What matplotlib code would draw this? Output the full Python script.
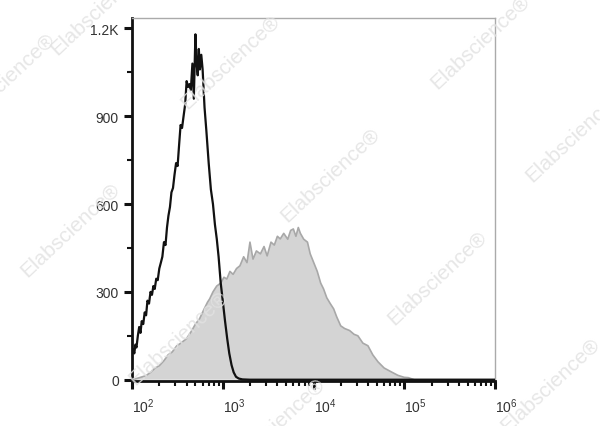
import numpy as np
import matplotlib.pyplot as plt
from matplotlib.ticker import FixedLocator, LogLocator, NullFormatter

plt.rcParams["font.family"] = ["Liberation Sans", "DejaVu Sans"]

# ── black histogram (unstained / control) ──
black_x = [100, 103, 106, 109, 112, 116, 120, 124, 128, 133, 138, 143, 148, 154, 160,
           166, 172, 178, 185, 192, 200, 208, 216, 225, 234, 243, 252, 262, 272, 283,
           294, 306, 318, 330, 343, 356, 370, 385, 400, 415, 430, 445, 463, 480, 500,
           515, 530, 545, 560, 580, 600, 630, 660, 700, 740, 780, 820, 860, 900, 950,
           1000, 1060, 1120, 1180, 1250, 1320, 1400, 1500, 1650, 2000, 1e6]
black_y = [95, 105, 90, 120, 110, 150, 180, 160, 200, 190, 230, 220, 270, 260, 300,
           290, 320, 310, 345, 340, 380, 400, 420, 470, 460, 520, 560, 590, 640, 655,
           700, 740, 730, 800, 870, 860, 900, 940, 1020, 1000, 1010, 990, 1080, 960, 1180,
           1080, 1040, 1130, 1060, 1110, 1060, 930, 850, 740, 650, 600, 530, 480, 420, 330,
           270, 200, 140, 90, 50, 25, 10, 4, 1, 0, 0]

# ── gray filled histogram (stained) ──
gray_x = [100, 115, 130, 143, 160, 180, 200, 225, 250, 278, 310, 345, 398, 450, 500,
          555, 620, 680, 717, 780, 858, 950, 1030, 1108, 1200, 1300, 1420, 1545, 1700, 1850,
          1995, 2154, 2350, 2600, 2850, 3084, 3400, 3700, 4000, 4300, 4700, 5200, 5600, 5995, 6400,
          6800, 7170, 7800, 8580, 9200, 10000, 11000, 12000, 12915, 14000, 15300, 16680, 18000, 19950, 22000,
          25000, 28000, 30840, 35000, 39800, 45000, 51400, 60000, 71700, 85000, 100000, 110800, 129000, 1e6]
gray_y = [0, 5, 10, 14, 25, 40, 48, 65, 85, 95, 115, 125, 140, 165, 190,
          208, 240, 265, 276, 300, 320, 330, 350, 344, 370, 360, 380, 389, 420, 400,
          470, 412, 440, 430, 455, 423, 470, 460, 490, 481, 500, 480, 510, 515, 490,
          520, 500, 480, 470, 430, 402, 370, 330, 310, 280, 260, 242, 215, 184, 175,
          168, 155, 150, 125, 116, 85, 61, 40, 27, 15, 8, 7, 0, 0]

x_ticks = [1e2, 1e3, 1e4, 1e5, 1e6]
x_labels = [r"$\mathregular{10^{2}}$", r"$\mathregular{10^{3}}$", r"$\mathregular{10^{4}}$",
            r"$\mathregular{10^{5}}$", r"$\mathregular{10^{6}}$"]
y_ticks = [0, 300, 600, 900, 1200]
y_labels = ["0", "300", "600", "900", "1.2K"]

fig = plt.figure(figsize=(6, 4.27), dpi=100)
ax = fig.add_axes([0.22, 0.105, 0.605, 0.85])

ax.fill_between(gray_x, gray_y, 0, facecolor="#d4d4d4", edgecolor="none", zorder=1)
ax.plot(gray_x, gray_y, color="#a8a8a8", lw=1.2, zorder=2)
ax.plot(black_x, black_y, color="#111111", lw=1.6, zorder=3)

ax.set_xscale("log")
ax.set_xlim(100, 1e6)
ax.set_ylim(-5, 1235)

ax.yaxis.set_major_locator(FixedLocator(y_ticks))
ax.set_yticklabels(y_labels)
ax.yaxis.set_minor_locator(FixedLocator([150, 450, 750, 1050]))
ax.xaxis.set_major_locator(FixedLocator(x_ticks))
ax.set_xticklabels(x_labels)
ax.xaxis.set_minor_locator(LogLocator(base=10, subs=np.arange(2, 10), numticks=50))
ax.xaxis.set_minor_formatter(NullFormatter())
plt.setp(ax.get_xticklabels(), ha="left")

ax.tick_params(axis="both", which="major", direction="out", length=6, width=2.2,
               color="#111111", labelcolor="#333333", labelsize=10)
ax.tick_params(axis="both", which="minor", direction="out", length=3.5, width=1.5,
               color="#111111")
ax.tick_params(axis="x", which="major", pad=5)

for s in ["left", "bottom"]:
    ax.spines[s].set_color("#111111")
    ax.spines[s].set_linewidth(2)
for s in ["top", "right"]:
    ax.spines[s].set_color("#aaaaaa")
    ax.spines[s].set_linewidth(1)

# watermark
marks = [(100, 8), (5, 80), (230, 62), (480, 42), (330, 175), (575, 135),
         (70, 230), (437, 278), (178, 338), (550, 385), (275, 425)]
for px, py in marks:
    fig.text(px / 600, 1 - py / 427, "Elabscience\u00ae", fontsize=15, rotation=43,
             color="#e2e2e2", alpha=0.85, ha="center", va="center", zorder=10)

fig.savefig("out.png", dpi=100)
